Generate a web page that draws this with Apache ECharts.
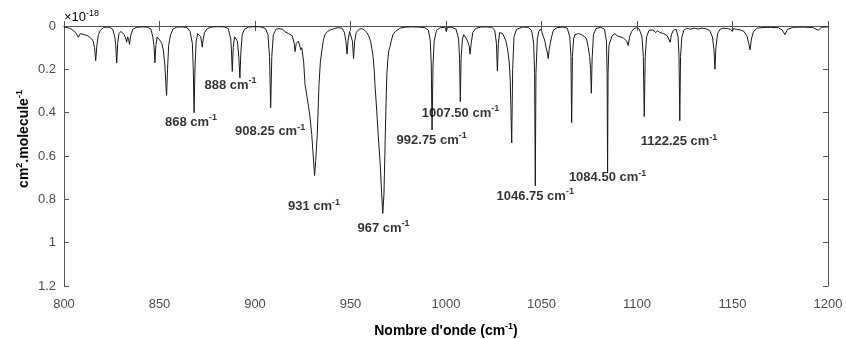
<!DOCTYPE html>
<html>
<head>
<meta charset="utf-8">
<script src="https://cdn.jsdelivr.net/npm/echarts@6/dist/echarts.min.js"></script>
<style>
  html, body { margin: 0; padding: 0; background: #fff; }
  #spectre { width: 846px; height: 339px; }
</style>
</head>
<body>
<div id="spectre"></div>
<script>
// Spectre d'absorption (section efficace, x1e-18 cm2.molecule-1)
var xTicks = [800, 850, 900, 950, 1000, 1050, 1100, 1150, 1200];
var yTicks = [0, 0.2, 0.4, 0.6, 0.8, 1, 1.2];

// [nombre d'onde, valeur]
var spectrum = [
  [800, 0.005], [802, 0.008], [804, 0.015], [806, 0.03], [807.5, 0.052], [808.5, 0.035],
  [809.5, 0.03], [810.5, 0.04], [811.5, 0.035], [812.5, 0.045], [813.5, 0.04], [814.5, 0.06],
  [815.3, 0.07], [816, 0.1], [816.6, 0.16], [817.2, 0.09], [818, 0.04], [819, 0.02],
  [820.5, 0.008], [822, 0.005], [824, 0.006], [825.5, 0.015], [826.6, 0.05], [827.1, 0.09],
  [827.6, 0.17], [828.1, 0.08], [828.8, 0.035], [829.8, 0.025], [830.5, 0.03], [831.5, 0.04],
  [832.3, 0.055], [832.8, 0.075], [833.3, 0.05], [833.8, 0.06], [834.3, 0.085], [834.9, 0.045],
  [836, 0.015], [838, 0.006], [841, 0.004], [844, 0.006], [845.5, 0.015], [846.5, 0.05],
  [847.1, 0.09], [847.6, 0.17], [848.1, 0.09], [848.8, 0.05], [849.5, 0.055], [850.5, 0.07],
  [851.2, 0.08], [852, 0.11], [852.8, 0.18], [853.3, 0.26], [853.7, 0.32], [854.2, 0.2],
  [854.8, 0.09], [855.8, 0.04], [857, 0.015], [859, 0.005], [862, 0.004], [864.5, 0.008],
  [866, 0.025], [867.2, 0.08], [867.7, 0.2], [868.1, 0.4], [868.6, 0.19], [869.2, 0.07],
  [870, 0.035], [870.8, 0.03], [871.6, 0.05], [872.1, 0.08], [872.4, 0.098], [872.8, 0.065],
  [873.6, 0.03], [875, 0.012], [877, 0.005], [880, 0.003], [884, 0.004], [886, 0.012],
  [887.3, 0.06], [887.7, 0.12], [888.1, 0.21], [888.6, 0.1], [889.3, 0.05], [890, 0.045],
  [890.8, 0.07], [891.5, 0.14], [892.1, 0.24], [892.6, 0.12], [893.3, 0.04], [894.5, 0.015],
  [896.5, 0.005], [900, 0.003], [903, 0.004], [905.5, 0.012], [906.8, 0.04], [907.6, 0.14],
  [908.2, 0.377], [908.8, 0.14], [909.6, 0.04], [911, 0.015], [912.5, 0.012], [913.5, 0.02],
  [914.5, 0.015], [915.5, 0.025], [916.5, 0.02], [917.5, 0.035], [918.5, 0.03], [919.5, 0.045],
  [920.5, 0.08], [921, 0.118], [921.6, 0.08], [922.7, 0.07], [923.4, 0.09], [923.9, 0.11],
  [924.5, 0.1], [925.5, 0.17], [926.2, 0.27], [927.3, 0.33], [928, 0.37], [928.8, 0.42],
  [929.7, 0.5], [930.5, 0.6], [931.2, 0.69], [931.8, 0.62], [932.6, 0.5], [933.5, 0.27],
  [934.2, 0.17], [934.9, 0.12], [935.8, 0.065], [936.6, 0.04], [938, 0.025], [939.5, 0.018],
  [941.5, 0.012], [943.5, 0.008], [945.5, 0.01], [946.8, 0.03], [947.6, 0.07], [948.2, 0.13],
  [948.7, 0.07], [949.5, 0.025], [950.3, 0.03], [951, 0.07], [951.6, 0.15], [952.2, 0.07],
  [953, 0.03], [954.5, 0.015], [956, 0.012], [957.5, 0.02], [958.5, 0.03], [959.5, 0.045],
  [960.5, 0.07], [961.3, 0.11], [961.8, 0.14], [962.4, 0.2], [962.8, 0.27], [963.5, 0.36],
  [964.5, 0.5], [965.5, 0.63], [966.3, 0.77], [966.9, 0.865], [967.5, 0.78], [968.1, 0.55],
  [968.6, 0.36], [969, 0.23], [969.5, 0.16], [970.1, 0.11], [970.7, 0.095], [971.3, 0.07],
  [972.2, 0.04], [973.5, 0.025], [976, 0.01], [979, 0.005], [982, 0.004], [986, 0.005],
  [989, 0.008], [990.8, 0.02], [991.8, 0.07], [992.3, 0.18], [992.7, 0.48], [993.2, 0.18],
  [993.8, 0.07], [995, 0.02], [997, 0.008], [999.5, 0.006], [1000.2, 0.026], [1000.8, 0.006],
  [1003, 0.006], [1005.3, 0.015], [1006.6, 0.06], [1007.1, 0.15], [1007.5, 0.349], [1007.9, 0.15],
  [1008.6, 0.06], [1009.3, 0.04], [1010, 0.045], [1010.8, 0.06], [1011.5, 0.075], [1012.1, 0.09],
  [1012.6, 0.13], [1013.2, 0.08], [1014, 0.03], [1015.5, 0.012], [1018, 0.005], [1021, 0.004],
  [1024, 0.006], [1025.5, 0.02], [1026.4, 0.08], [1026.9, 0.208], [1027.4, 0.08], [1028.1, 0.03],
  [1028.8, 0.025], [1029.6, 0.035], [1030.5, 0.05], [1031.4, 0.07], [1032.1, 0.1], [1032.6, 0.13],
  [1033.1, 0.17], [1033.6, 0.24], [1034.4, 0.54], [1034.9, 0.2], [1035.6, 0.05], [1037, 0.015],
  [1040, 0.005], [1043, 0.006], [1044.8, 0.02], [1045.9, 0.08], [1046.4, 0.22], [1046.75, 0.738],
  [1047.1, 0.22], [1047.8, 0.06], [1048.6, 0.025], [1049.4, 0.015], [1050.1, 0.025], [1051, 0.05],
  [1051.8, 0.07], [1052.4, 0.1], [1053, 0.12], [1053.5, 0.15], [1054, 0.11], [1054.6, 0.08],
  [1055.3, 0.05], [1056.2, 0.02], [1058, 0.008], [1061, 0.005], [1063.5, 0.01], [1064.8, 0.05],
  [1065.4, 0.14], [1065.8, 0.446], [1066.2, 0.14], [1066.8, 0.06], [1067.5, 0.04], [1068.4, 0.045],
  [1069.3, 0.035], [1070.2, 0.03], [1071, 0.04], [1071.8, 0.035], [1072.7, 0.05], [1073.6, 0.06],
  [1074.5, 0.1], [1075.2, 0.14], [1075.7, 0.2], [1076.1, 0.31], [1076.5, 0.15], [1077.2, 0.04],
  [1078.5, 0.012], [1081, 0.006], [1083, 0.015], [1084, 0.07], [1084.35, 0.22], [1084.6, 0.677],
  [1084.85, 0.22], [1085.3, 0.09], [1086, 0.07], [1087, 0.045], [1088.5, 0.035], [1089.4, 0.045],
  [1090.2, 0.04], [1091.1, 0.05], [1092, 0.045], [1092.9, 0.055], [1093.7, 0.05], [1094.6, 0.07],
  [1095.4, 0.09], [1096.1, 0.05], [1097.2, 0.025], [1098.5, 0.012], [1099.8, 0.008], [1101.2, 0.015],
  [1102.6, 0.05], [1103.3, 0.14], [1103.8, 0.418], [1104.3, 0.14], [1105, 0.05], [1106.3, 0.02],
  [1107.3, 0.02], [1108.5, 0.018], [1109.7, 0.03], [1110.8, 0.022], [1112, 0.03], [1113, 0.025],
  [1114, 0.035], [1114.9, 0.03], [1115.8, 0.045], [1116.6, 0.05], [1117.4, 0.075], [1118, 0.04],
  [1119, 0.02], [1120.5, 0.015], [1121.5, 0.05], [1122, 0.14], [1122.4, 0.437], [1122.8, 0.14],
  [1123.5, 0.05], [1124.5, 0.02], [1126, 0.01], [1128, 0.015], [1130, 0.01], [1132, 0.014],
  [1134, 0.01], [1136, 0.012], [1138, 0.02], [1139.5, 0.05], [1140.3, 0.11], [1140.8, 0.2],
  [1141.3, 0.1], [1142.2, 0.035], [1143.5, 0.015], [1145, 0.01], [1147, 0.012], [1149, 0.015],
  [1149.9, 0.025], [1150.6, 0.012], [1152, 0.015], [1154, 0.018], [1156, 0.025], [1157.5, 0.045],
  [1158.5, 0.08], [1159.2, 0.11], [1159.9, 0.06], [1161, 0.025], [1163, 0.01], [1166, 0.007],
  [1170, 0.006], [1174, 0.008], [1176, 0.018], [1177.5, 0.04], [1178.8, 0.015], [1182, 0.006],
  [1187, 0.005], [1192, 0.007], [1194.9, 0.02], [1196.5, 0.006], [1200, 0.004]
];

// etiquettes des raies : [x, y, texte]
var peakLabels = [
  [866.5, 0.443, '868'],
  [887.2, 0.272, '888'],
  [907.9, 0.488, '908.25'],
  [930.9, 0.834, '931'],
  [967.3, 0.934, '967'],
  [992.5, 0.526, '992.75'],
  [1007.6, 0.403, '1007.50'],
  [1046.7, 0.786, '1046.75'],
  [1084.6, 0.70, '1084.50'],
  [1122, 0.534, '1122.25']
];

var axisColor = '#555555';
var labelColor = '#4d4d4d';
var supStyle = { fontSize: 9, fontWeight: 'bold', color: '#000000', verticalAlign: 'top', lineHeight: 8 };
var boldStyle = { fontSize: 14, fontWeight: 'bold', color: '#000000', fontFamily: 'Liberation Sans', lineHeight: 18 };

var chart = echarts.init(document.getElementById('spectre'));
var option = {
  animation: false,
  backgroundColor: '#ffffff',
  grid: { left: 64, right: 18, top: 26, bottom: 53, containLabel: false, outerBoundsMode: 'none' },
  graphic: [{
    type: 'text',
    x: 64,
    y: 17,
    style: {
      text: '{a|\u00d710}{e|-18}',
      align: 'left',
      verticalAlign: 'middle',
      rich: {
        a: { fontSize: 13, color: labelColor, fontFamily: 'Liberation Sans', lineHeight: 16 },
        e: { fontSize: 9, color: labelColor, fontFamily: 'Liberation Sans', verticalAlign: 'top', lineHeight: 8 }
      }
    }
  }, {
    // titre de l'axe vertical
    type: 'text',
    x: 24,
    y: 139,
    rotation: Math.PI / 2,
    style: {
      text: '{b|cm}{s|2}{b|.molecule}{s|-1}',
      align: 'center',
      verticalAlign: 'middle',
      rich: { b: boldStyle, s: supStyle }
    }
  }],
  xAxis: [{
    type: 'value',
    min: xTicks[0],
    max: xTicks[xTicks.length - 1],
    interval: xTicks[1] - xTicks[0],
    name: "{b|Nombre d'onde (cm}{s|-1}{b|)}",
    nameLocation: 'middle',
    nameGap: 36,
    nameTextStyle: { rich: { b: boldStyle, s: supStyle } },
    splitLine: { show: false },
    axisLine: { show: true, lineStyle: { color: axisColor, width: 1 } },
    axisTick: { show: true, inside: true, length: 5, lineStyle: { color: axisColor } },
    axisLabel: {
      color: labelColor, fontSize: 13, fontFamily: 'Liberation Sans', margin: 12,
      formatter: function (v) { return String(v); }
    }
  }, {
    type: 'value',
    position: 'top',
    min: xTicks[0],
    max: xTicks[xTicks.length - 1],
    interval: xTicks[1] - xTicks[0],
    splitLine: { show: false },
    axisLine: { show: true, lineStyle: { color: axisColor, width: 1 } },
    axisTick: { show: true, inside: true, length: 5, lineStyle: { color: axisColor } },
    axisLabel: { show: false }
  }],
  yAxis: [{
    type: 'value',
    inverse: true,
    min: yTicks[0],
    max: yTicks[yTicks.length - 1],
    interval: yTicks[1] - yTicks[0],
    splitLine: { show: false },
    axisLine: { show: true, lineStyle: { color: axisColor, width: 1 } },
    axisTick: { show: true, inside: true, length: 5, lineStyle: { color: axisColor } },
    axisLabel: {
      color: labelColor, fontSize: 13, fontFamily: 'Liberation Sans', margin: 8,
      formatter: function (v) { return String(v); }
    }
  }, {
    type: 'value',
    position: 'right',
    inverse: true,
    min: yTicks[0],
    max: yTicks[yTicks.length - 1],
    interval: yTicks[1] - yTicks[0],
    splitLine: { show: false },
    axisLine: { show: true, lineStyle: { color: axisColor, width: 1 } },
    axisTick: { show: true, inside: true, length: 5, lineStyle: { color: axisColor } },
    axisLabel: { show: false }
  }],
  series: [{
    name: 'spectre',
    type: 'line',
    data: spectrum,
    symbol: 'none',
    smooth: false,
    silent: true,
    lineStyle: { color: '#1a1a1a', width: 1 },
    z: 3
  }, {
    name: 'raies',
    type: 'scatter',
    silent: true,
    symbolSize: 0,
    data: peakLabels.map(function (p) { return [p[0], p[1], p[2]]; }),
    label: {
      show: true,
      position: 'inside',
      align: 'center',
      verticalAlign: 'middle',
      formatter: function (p) { return '{t|' + p.value[2] + ' cm}{s|-1}'; },
      rich: {
        t: { fontSize: 13, fontWeight: 'bold', color: '#000000', fontFamily: 'Liberation Sans', lineHeight: 18 },
        s: supStyle
      }
    },
    z: 4
  }]
};
chart.setOption(option);
</script>
</body>
</html>
